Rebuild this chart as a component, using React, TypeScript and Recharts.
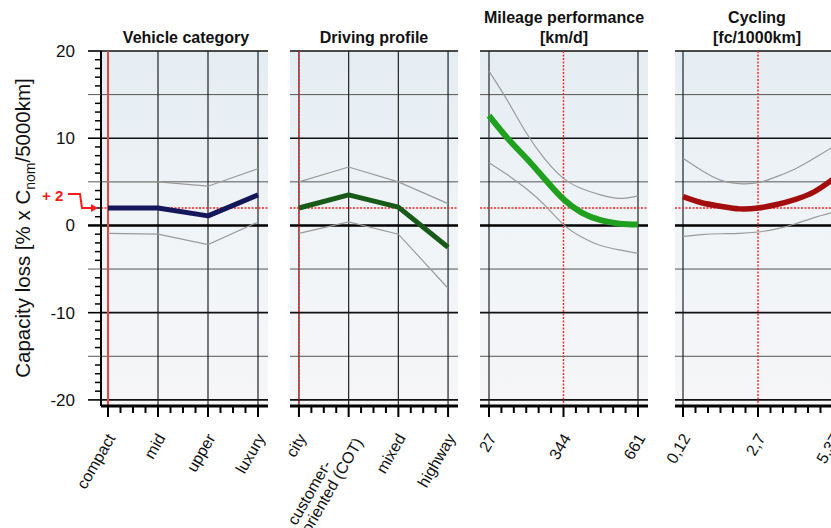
import React from 'react';
import { LineChart, Line, XAxis, YAxis, CartesianGrid } from 'recharts';

const FONT = '"Liberation Sans", Arial, Helvetica, sans-serif';
const Y_DOMAIN: [number, number] = [-20.7, 20];
const Y_TICKS = Array.from({ length: 41 }, (_, i) => i - 20);
const GRID_MAJOR = [20, 10, -10, -20];
const GRID_MINOR = [15, 5, -5, -15];

// Panel 1: vehicle category
const vehicleCategories = ['compact', 'mid', 'upper', 'luxury'];
const vehicleMean = [2.0, 2.0, 1.1, 3.5];
const vehicleUpper = [5.0, 5.0, 4.5, 6.5];
const vehicleLower = [-0.9, -1.0, -2.2, 0.4];

// Panel 2: driving profile
const drivingCategories = ['city', 'customer-\noriented (COT)', 'mixed', 'highway'];
const drivingMean = [2.0, 3.5, 2.1, -2.5];
const drivingUpper = [5.0, 6.7, 5.0, 2.5];
const drivingLower = [-0.9, 0.4, -1.0, -7.2];

// Panel 3: mileage performance [km/d]
const mileageX = [27, 106, 186, 265, 344, 423, 502, 582, 661];
const mileageMean = [12.6, 10.0, 7.7, 5.3, 3.0, 1.45, 0.6, 0.2, 0.1];
const mileageUpper = [17.7, 14.3, 10.6, 7.6, 5.4, 4.2, 3.5, 3.1, 3.4];
const mileageLower = [7.2, 5.8, 4.2, 2.3, 0.1, -1.35, -2.3, -2.8, -3.2];
const mileageTicks = [27, 344, 661];
const mileageTickLabels = ['27', '344', '661'];

// Panel 4: cycling [fc/1000km]
const cyclingX = [0.12, 0.776, 1.43, 2.09, 2.745, 3.4, 4.06, 4.71, 5.37];
const cyclingMean = [3.3, 2.6, 2.2, 1.9, 2.0, 2.4, 3.0, 3.85, 5.3];
const cyclingUpper = [7.7, 6.3, 5.2, 4.8, 4.9, 5.6, 6.5, 7.7, 9.0];
const cyclingLower = [-1.25, -1.05, -0.95, -0.9, -0.75, -0.4, 0.2, 0.9, 1.5];
const cyclingTicks = [0.12, 2.745, 5.37];
const cyclingTickLabels = ['0,12', '2,7', '5,37'];

const titles = [['Vehicle category'], ['Driving profile'], ['Mileage performance', '[km/d]'], ['Cycling', '[fc/1000km]']];

const vehicleData = vehicleCategories.map((c, i) => ({ x: i, name: c, mean: vehicleMean[i], upper: vehicleUpper[i], lower: vehicleLower[i] }));
const drivingData = drivingCategories.map((c, i) => ({ x: i, name: c, mean: drivingMean[i], upper: drivingUpper[i], lower: drivingLower[i] }));
const mileageData = mileageX.map((x, i) => ({ x, mean: mileageMean[i], upper: mileageUpper[i], lower: mileageLower[i] }));
const cyclingData = cyclingX.map((x, i) => ({ x, mean: cyclingMean[i], upper: cyclingUpper[i], lower: cyclingLower[i] }));

function subdivide(majors: number[], n: number): number[] {
  const out: number[] = [];
  for (let i = 0; i < majors.length - 1; i++) {
    for (let k = 0; k < n; k++) out.push(majors[i] + ((majors[i + 1] - majors[i]) * k) / n);
  }
  out.push(majors[majors.length - 1]);
  return out;
}

let ctx: CanvasRenderingContext2D | null = null;
function measure(text: string, size: number): number {
  if (typeof document === 'undefined') return text.length * size * 0.5;
  if (!ctx) ctx = document.createElement('canvas').getContext('2d');
  if (!ctx) return text.length * size * 0.5;
  ctx.font = `${size}px ${FONT}`;
  return ctx.measureText(text).width;
}

const TICK_FS = 16;

function TickLabel({ x, y, text }: { x: number; y: number; text: string }) {
  const lines = text.split('\n');
  const lh = 16;
  const maxW = Math.max(...lines.map((l) => measure(l, TICK_FS)));
  return (
    <g transform={`translate(${x + 3},${y + 29}) rotate(-60)`}>
      {lines.map((l, i) => (
        <text
          key={i}
          x={-maxW}
          y={(i - (lines.length - 1) / 2) * lh}
          dy="0.35em"
          textAnchor="start"
          fontSize={TICK_FS}
          fontFamily={FONT}
          fill="#111"
        >
          {l}
        </text>
      ))}
    </g>
  );
}

function makeXTick(majors: number[], labels: string[]) {
  return (props: any) => {
    const { x, y, payload } = props;
    const idx = majors.findIndex((m) => Math.abs(m - payload.value) < 1e-6);
    const major = idx >= 0;
    return (
      <g>
        <line x1={x} x2={x} y1={y} y2={y + (major ? 11 : 7)} stroke="#000" strokeWidth={2} />
        {major && <TickLabel x={x} y={y} text={labels[idx]} />}
      </g>
    );
  };
}

function YTick(props: any) {
  const { x, y, payload } = props;
  const v = payload.value as number;
  const long = v % 5 === 0;
  const major = v % 10 === 0;
  return (
    <g>
      <line
        x1={x - (long ? 13 : 6)}
        x2={x}
        y1={y}
        y2={y}
        stroke={long && !major ? '#555' : '#000'}
        strokeWidth={major ? (v === 0 ? 2.5 : 1.6) : long ? 1 : 1.5}
      />
      {major && (
        <text x={x - 26} y={y} dy="0.35em" textAnchor="end" fontSize={17} fontFamily={FONT} fill="#111">
          {v}
        </text>
      )}
      {v === 2 && (
        <g>
          <text x={x - 59} y={y - 7} fontSize={15} fontWeight="bold" fontFamily={FONT} fill="#ff1a1a">
            + 2
          </text>
          <path d={`M${x - 33},${y - 14} H${x - 21} L${x - 19},${y} H${x - 9}`} fill="none" stroke="#ff1a1a" strokeWidth={2} />
          <path d={`M${x - 10},${y - 4} L${x - 3},${y} L${x - 10},${y + 4} Z`} fill="#ff1a1a" />
        </g>
      )}
    </g>
  );
}

type PanelProps = {
  left: number;
  width: number;
  withYAxis: boolean;
  xDomain: [number, number];
  data: any[];
  majors: number[];
  subdiv: number;
  labels: string[];
  refX: number;
  refSolid: boolean;
  blackX: number[];
  color: string;
  lineWidth: number;
  curve: 'linear' | 'natural';
};

function Panel(p: PanelProps) {
  const yW = p.withYAxis ? 101 : 0;
  const pad = p.withYAxis ? 0 : 40;
  const xTicks = subdivide(p.majors, p.subdiv);
  return (
    <div style={{ position: 'absolute', left: p.left - pad, top: 0 }}>
      <LineChart width={p.width + yW + pad} height={528} margin={{ top: 51, right: 0, bottom: 92, left: pad }} data={p.data}>
        <XAxis
          type="number"
          dataKey="x"
          domain={p.xDomain}
          ticks={xTicks}
          interval={0}
          tick={makeXTick(p.majors, p.labels)}
          tickSize={0}
          tickMargin={0}
          tickLine={false}
          height={30}
          axisLine={{ stroke: '#000', strokeWidth: 3 }}
          allowDataOverflow
        />
        {p.withYAxis ? (
          <YAxis
            type="number"
            domain={Y_DOMAIN}
            ticks={Y_TICKS}
            interval={0}
            width={101}
            tick={YTick}
            tickSize={0}
            tickMargin={0}
            tickLine={false}
            axisLine={{ stroke: '#000', strokeWidth: 2 }}
            allowDataOverflow
          />
        ) : (
          <YAxis type="number" domain={Y_DOMAIN} ticks={Y_TICKS} interval={0} hide allowDataOverflow />
        )}
        <CartesianGrid fill="url(#panelBg)" fillOpacity={1} vertical={false} horizontalValues={GRID_MINOR} stroke="#555" strokeWidth={1} />
        <CartesianGrid vertical={false} horizontalValues={GRID_MAJOR} stroke="#111" strokeWidth={1.6} />
        <CartesianGrid horizontal={false} verticalValues={p.blackX} stroke="#222" strokeWidth={1.2} />
        <CartesianGrid vertical={false} horizontalValues={[0]} stroke="#000" strokeWidth={2.5} />
        <CartesianGrid vertical={false} horizontalValues={[2]} stroke="#ff2020" strokeWidth={1.3} strokeDasharray="2 1.5" />
        {p.refSolid ? (
          <CartesianGrid horizontal={false} verticalValues={[p.refX]} stroke="#e8453c" strokeWidth={2} />
        ) : (
          <CartesianGrid horizontal={false} verticalValues={[p.refX]} stroke="#ff2020" strokeWidth={1.4} strokeDasharray="2 1.5" />
        )}
        <Line type={p.curve} dataKey="upper" stroke="#9a9a9a" strokeWidth={1.2} dot={false} activeDot={false} isAnimationActive={false} />
        <Line type={p.curve} dataKey="lower" stroke="#9a9a9a" strokeWidth={1.2} dot={false} activeDot={false} isAnimationActive={false} />
        <Line type={p.curve} dataKey="mean" stroke={p.color} strokeWidth={p.lineWidth} dot={false} activeDot={false} strokeLinejoin="round" isAnimationActive={false} />
      </LineChart>
    </div>
  );
}

const panels: PanelProps[] = [
  {
    left: 0, width: 167, withYAxis: true, xDomain: [-0.14, 3.2], data: vehicleData,
    majors: [0, 1, 2, 3], subdiv: 4, labels: vehicleCategories, refX: 0, refSolid: true, blackX: [1, 2, 3],
    color: '#16175a', lineWidth: 5, curve: 'linear',
  },
  {
    left: 290, width: 168, withYAxis: false, xDomain: [-0.18, 3.2], data: drivingData,
    majors: [0, 1, 2, 3], subdiv: 4, labels: drivingCategories, refX: 0, refSolid: false, blackX: [0, 1, 2, 3],
    color: '#185a18', lineWidth: 5, curve: 'linear',
  },
  {
    left: 480, width: 168, withYAxis: false, xDomain: [-11.3, 703.6], data: mileageData,
    majors: mileageTicks, subdiv: 6, labels: mileageTickLabels, refX: 344, refSolid: false, blackX: [27, 661],
    color: '#1fa01f', lineWidth: 6, curve: 'natural',
  },
  {
    left: 675, width: 168, withYAxis: false, xDomain: [-0.16, 5.72], data: cyclingData,
    majors: cyclingTicks, subdiv: 6, labels: cyclingTickLabels, refX: 2.745, refSolid: false, blackX: [0.12, 5.37],
    color: '#a30d0d', lineWidth: 5.5, curve: 'natural',
  },
];

const titleCenters = [186, 374, 564, 757];

export default function App() {
  return (
    <div style={{ position: 'absolute', left: 0, top: 0, width: 831, height: 528, overflow: 'hidden', background: '#fff', fontFamily: FONT }}>
      <svg width={0} height={0} style={{ position: 'absolute' }}>
        <defs>
          <linearGradient id="panelBg" x1="0" y1="0" x2="0" y2="1">
            <stop offset="0%" stopColor="#e4edf2" />
            <stop offset="50%" stopColor="#f0f4f7" />
            <stop offset="100%" stopColor="#f6f6f8" />
          </linearGradient>
        </defs>
      </svg>
      <div style={{ position: 'absolute', left: 0, top: 0 }}>
        <LineChart width={831} height={528} margin={{ top: 51, right: 0, bottom: 122, left: 101 }} data={[]}>
          <XAxis type="number" dataKey="x" domain={[0, 1]} hide />
          <YAxis type="number" domain={Y_DOMAIN} hide />
          <CartesianGrid vertical={false} horizontalValues={[0]} stroke="#000" strokeWidth={2.5} strokeDasharray="3 2" />
          <CartesianGrid vertical={false} horizontalValues={[2]} stroke="#ff2020" strokeWidth={1.3} strokeDasharray="2 1.5" />
        </LineChart>
      </div>
      {panels.map((p, i) => (
        <Panel key={i} {...p} />
      ))}
      <svg width={831} height={528} style={{ position: 'absolute', left: 0, top: 0, pointerEvents: 'none' }}>
        <text transform="translate(30,228) rotate(-90)" textAnchor="middle" fontSize={20.5} fontFamily={FONT} fill="#111">
          Capacity loss [% x C
          <tspan dy={5} fontSize={14}>nom</tspan>
          <tspan dy={-5}>/5000km]</tspan>
        </text>
        {titles.map((t, i) =>
          t.map((line, k) => (
            <text
              key={`${i}-${k}`}
              x={titleCenters[i]}
              y={t.length === 1 ? 43 : k === 0 ? 23 : 43}
              textAnchor="middle"
              fontSize={16}
              fontWeight="bold"
              fontFamily={FONT}
              fill="#111"
            >
              {line}
            </text>
          ))
        )}
      </svg>
    </div>
  );
}
